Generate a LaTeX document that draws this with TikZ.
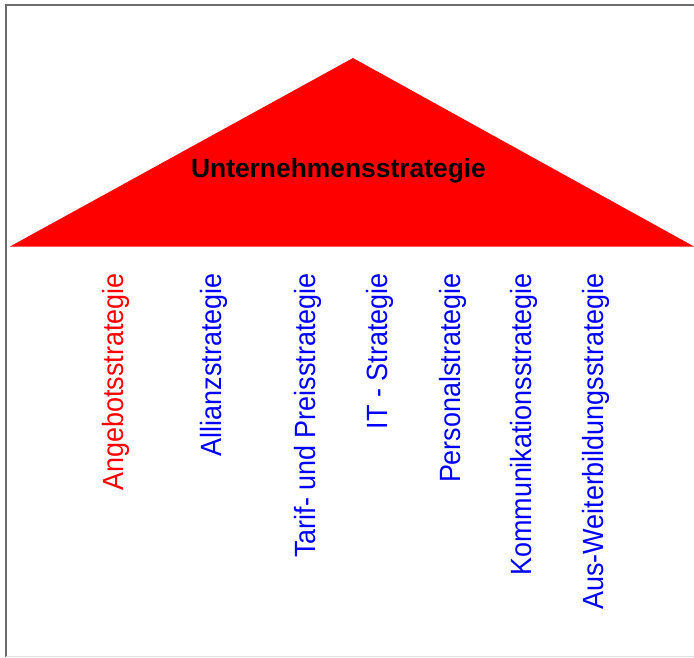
\documentclass[tikz,border=0pt]{standalone}
\usepackage{fontspec}
\newfontfamily\hfont{Liberation Sans}
\newfontfamily\condfont[FakeStretch=0.92]{Liberation Sans}
\definecolor{pblue}{RGB}{0,0,255}
\definecolor{pred}{RGB}{255,0,0}
\begin{document}
\begin{tikzpicture}[x=1pt,y=-1pt,
  strat/.style={rotate=90,anchor=base east,inner sep=0pt,
    font=\condfont\fontsize{29.3}{29.3}\selectfont,text=pblue},
  title/.style={anchor=base,inner sep=0pt,
    font=\hfont\bfseries\fontsize{26.4}{26.4}\selectfont,text=black}]
\useasboundingbox (0,0) rectangle (694,657);
% frame
\draw[gray!85!black,line width=1.5pt] (6,657) -- (6,5) -- (694,5);
\draw[black!12,line width=1pt] (6,656) -- (694,656);
% roof
\coordinate (L) at (10,246.5);
\coordinate (T) at (353,58);
\coordinate (R) at (694,246.5);
\fill[pred] (L) -- (T) -- (R) -- cycle;
\node[title] (head) at (338.5,177) {Unternehmensstrategie};
% pillars
\node[strat,text=pred] (s1) at (123,273) {Angebotsstrategie};
\node[strat] (s2) at (221.5,273) {Allianzstrategie};
\node[strat] (s3) at (315,273) {Tarif- und Preisstrategie};
\node[strat] (s4) at (387,273) {IT - Strategie};
\node[strat] (s5) at (460,273) {Personalstrategie};
\node[strat] (s6) at (531.5,273) {Kommunikationsstrategie};
\node[strat] (s7) at (603,273) {Aus-Weiterbildungsstrategie};
\end{tikzpicture}
\end{document}
